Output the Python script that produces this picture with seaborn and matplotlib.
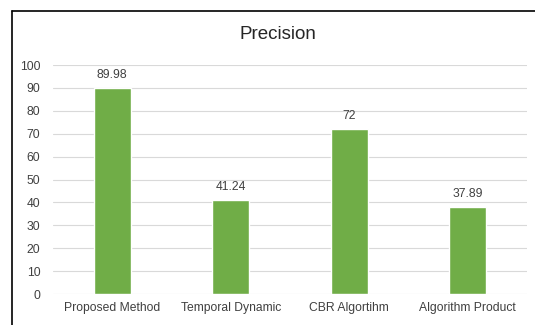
import numpy as np
import pandas as pd
import matplotlib
matplotlib.use("Agg")
import matplotlib.pyplot as plt
from matplotlib.lines import Line2D
import seaborn as sns

methods = ['Proposed Method', 'Temporal Dynamic', 'CBR Algortihm', 'Algorithm Product']
precision = [89.98, 41.24, 72, 37.89]
value_labels = ['89.98', '41.24', '72', '37.89']

sns.set_theme(style="white")
plt.rcParams['font.family'] = ['Liberation Sans', 'DejaVu Sans']

df = pd.DataFrame({'method': methods, 'precision': precision})

fig = plt.figure(figsize=(5.35, 3.25), dpi=100)
ax = fig.add_axes([0.099, 0.095, 0.886, 0.705])

sns.barplot(data=df, x='method', y='precision', color='#70AD47', width=0.31,
            saturation=1, ax=ax, zorder=3)

ax.set_ylim(0, 100)
ax.set_yticks(np.arange(0, 101, 10))
ax.yaxis.grid(True, color='#d9d9d9', linewidth=0.8, zorder=0)
ax.set_axisbelow(True)
for s in ax.spines.values():
    s.set_visible(False)
ax.set_xlabel('')
ax.set_ylabel('')
ax.tick_params(axis='both', length=0, labelsize=8.7, labelcolor='#404040')
ax.tick_params(axis='y', pad=9)
ax.tick_params(axis='x', pad=6)

for i, (v, lab) in enumerate(zip(precision, value_labels)):
    ax.text(i, v + 3, lab, ha='center', va='bottom', fontsize=8.7, color='#404040')

fig.text(0.52, 0.893, 'Precision', ha='center', va='center', fontsize=13.5, color='#262626')

# outer border (left and top only visible)
fig.add_artist(Line2D([12 / 535, 12 / 535], [0, 1 - 10.5 / 325], color='black', linewidth=1.2,
                      transform=fig.transFigure))
fig.add_artist(Line2D([12 / 535, 1], [1 - 10.5 / 325, 1 - 10.5 / 325], color='black', linewidth=1.2,
                      transform=fig.transFigure))

fig.savefig('out.png', dpi=100)
